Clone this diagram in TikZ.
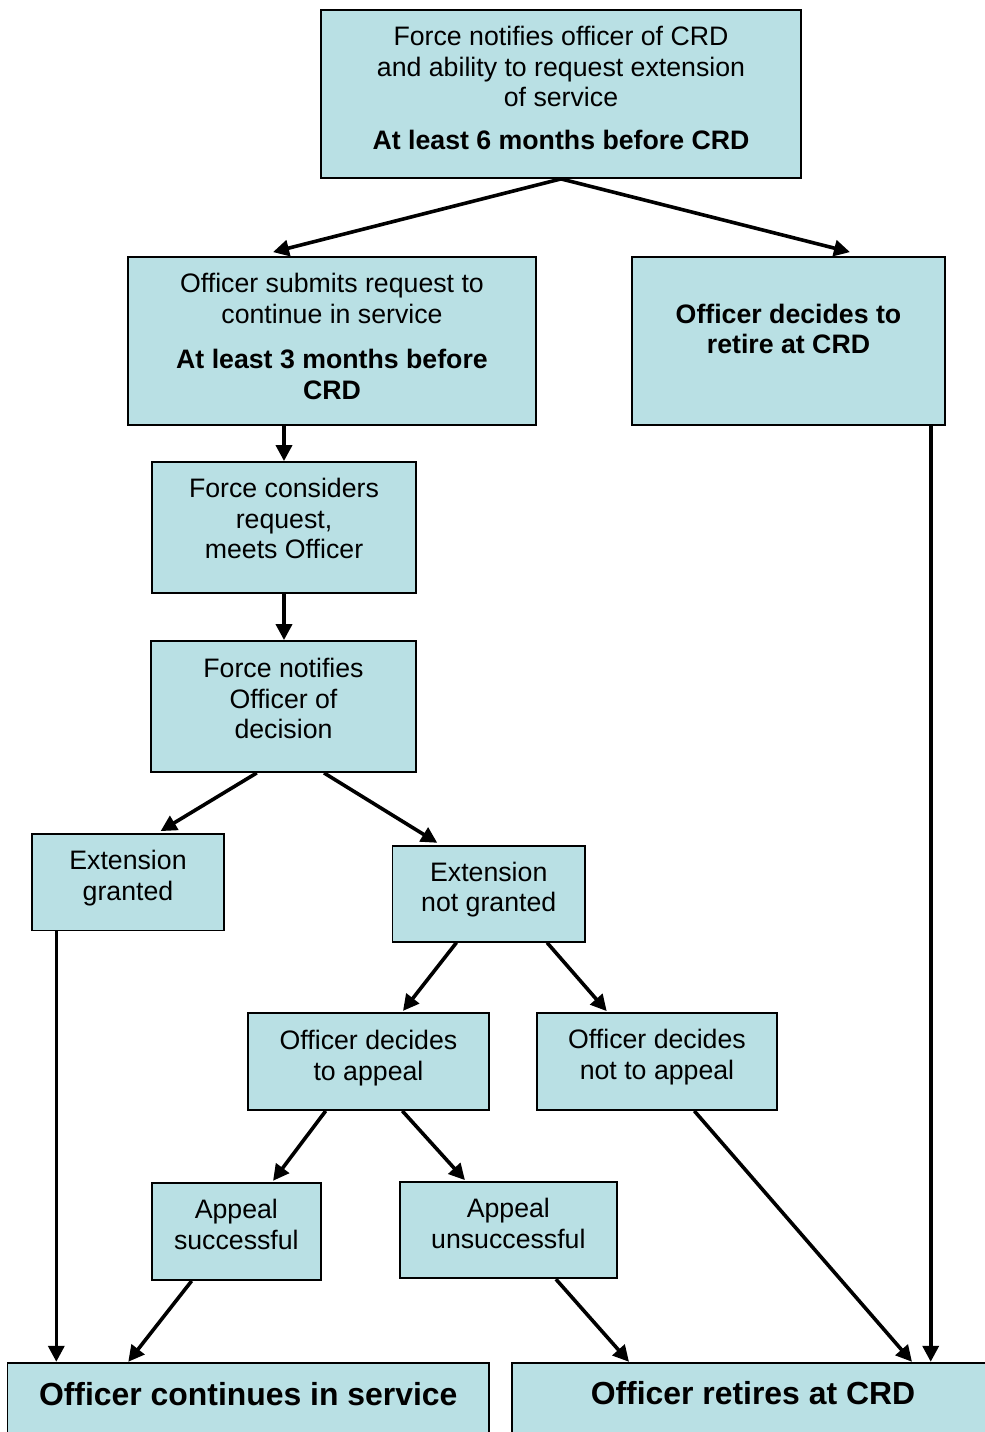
\documentclass[tikz,border=0pt]{standalone}
\usepackage{fontspec}
\setmainfont{Liberation Sans}
\usetikzlibrary{arrows.meta}
\definecolor{boxfill}{RGB}{185,224,228}
\tikzset{
  box/.style={draw=black, line width=1.8pt, fill=boxfill, inner sep=0pt},
  txt/.style={align=center, inner sep=0pt, font=\fontsize{26.7}{30.5}\selectfont},
  bigtxt/.style={inner sep=0pt, anchor=base, font=\fontsize{31.9}{36}\selectfont\bfseries},
  arr/.style={line width=3.6pt, -{Triangle[length=16pt,width=16pt]}}
}
\begin{document}
\begin{tikzpicture}[x=1pt,y=-1pt]
\useasboundingbox (0,0) rectangle (985,1432);
\clip (0,0) rectangle (985,1432);
% boxes
\node[box, minimum width=480pt, minimum height=168pt] (n1) at (561,94) {};
\node[box, minimum width=408pt, minimum height=168pt] (n2) at (332,341) {};
\node[box, minimum width=313pt, minimum height=168pt] (n3) at (788.5,341) {};
\node[box, minimum width=264pt, minimum height=131pt] (n4) at (284,527.5) {};
\node[box, minimum width=265pt, minimum height=131pt] (n5) at (283.5,706.5) {};
\node[box, minimum width=192pt, minimum height=96.5pt] (n6) at (128,882.25) {};
\node[box, minimum width=192.5pt, minimum height=96pt] (n7) at (488.75,893.7) {};
\node[box, minimum width=241pt, minimum height=96.7pt] (n8) at (368.5,1061.65) {};
\node[box, minimum width=240.6pt, minimum height=96.7pt] (n9) at (657,1061.65) {};
\node[box, minimum width=169.3pt, minimum height=97pt] (n10) at (236.35,1231.5) {};
\node[box, minimum width=216.7pt, minimum height=96.6pt] (n11) at (508.35,1230) {};
\node[box, minimum width=481.5pt, minimum height=140pt] (n12) at (248.25,1432.7) {};
\node[box, minimum width=482pt, minimum height=140pt] (n13) at (753,1432.7) {};
% texts
\node[txt] (t1) at (561,88.2) {Force notifies officer of CRD\\and ability to request extension\\of service\\[12pt]\textbf{At least 6 months before CRD}};
\node[txt] (t2) at (332,336.5) {Officer submits request to\\continue in service\\[15pt]\textbf{At least 3 months before}\\\textbf{CRD}};
\node[txt] (t3) at (788.5,328.9) {\textbf{Officer decides to}\\\textbf{retire at CRD}};
\node[txt] (t4) at (284,518.5) {Force considers\\request,\\meets Officer};
\node[txt] (t5) at (283.5,698.5) {Force notifies\\Officer of\\decision};
\node[txt] (t6) at (128,877.9) {Extension\\granted};
\node[txt] (t7) at (488.75,889.4) {Extension\\not granted};
\node[txt] (t8) at (368.5,1057.9) {Officer decides\\to appeal};
\node[txt] (t9) at (657,1056.9) {Officer decides\\not to appeal};
\node[txt] (t10) at (236.35,1224.2) {Appeal\\successful};
\node[txt] (t11) at (508.35,1223.3) {Appeal\\unsuccessful};
\node[bigtxt] (t12) at (248.25,1405) {Officer continues in service};
\node[bigtxt] (t13) at (753,1404) {Officer retires at CRD};
% connectors
\draw[arr] (n1.south) -- ([xshift=-59pt,yshift=4pt]n2.north);
\draw[arr] (n1.south) -- ([xshift=61.5pt,yshift=4pt]n3.north);
\draw[arr] ([xshift=-48pt]n2.south) -- (n4.north);
\draw[arr] (n4.south) -- (n4.south |- n5.north);
\draw[arr] ([xshift=-26.7pt]n5.south) -- ([xshift=32.6pt,yshift=2pt]n6.north);
\draw[arr] ([xshift=40.5pt]n5.south) -- ([xshift=-51.5pt,yshift=2pt]n7.north);
\coordinate (c6) at ([xshift=-71.7pt]n6.south);
\draw[arr] (c6) -- (c6 |- n12.north);
\draw[arr] ([xshift=-32.3pt]n7.south) -- ([xshift=34.5pt,yshift=1.5pt]n8.north);
\draw[arr] ([xshift=58.3pt]n7.south) -- ([xshift=-50.3pt,yshift=1.3pt]n9.north);
\draw[arr] ([xshift=-42.8pt]n8.south) -- ([xshift=36.7pt,yshift=1.3pt]n10.north);
\draw[arr] ([xshift=33.8pt]n8.south) -- ([xshift=-43.4pt,yshift=0.7pt]n11.north);
\draw[arr] ([xshift=-44.7pt]n10.south) -- ([xshift=-120pt]n12.north);
\draw[arr] ([xshift=47.6pt]n11.south) -- ([xshift=-124pt]n13.north);
\draw[arr] ([xshift=37.3pt]n9.south) -- ([xshift=159pt]n13.north);
\coordinate (c3) at ([xshift=142.2pt]n3.south);
\draw[arr] (c3) -- (c3 |- n13.north);
\end{tikzpicture}
\end{document}
